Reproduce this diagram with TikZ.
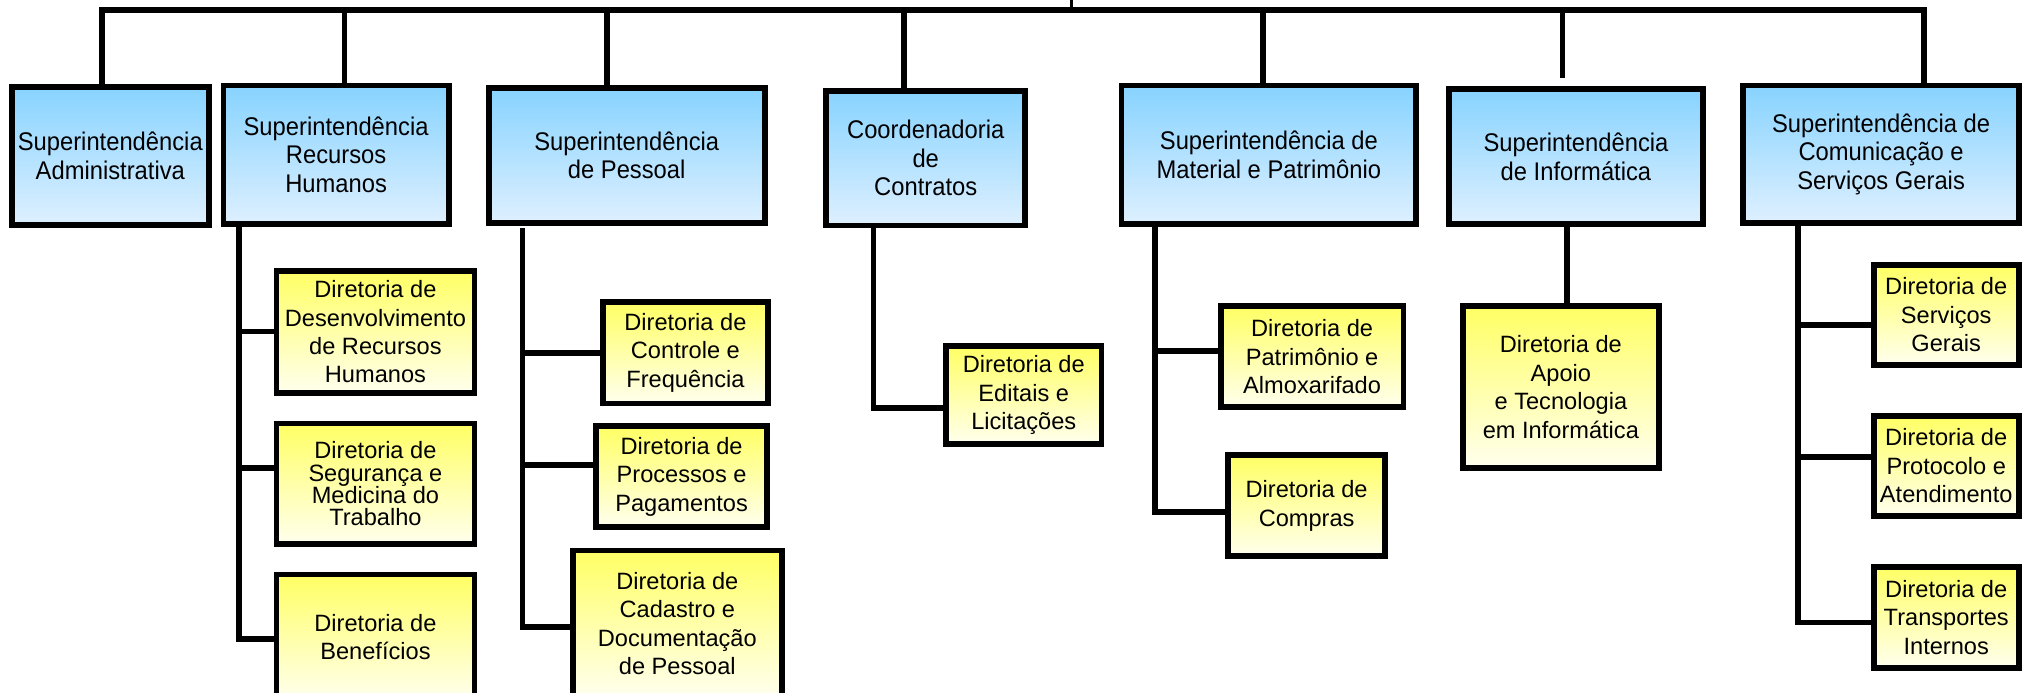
\documentclass[tikz,border=0pt]{standalone}
\usepackage{fontspec}
\setmainfont{Liberation Sans}
\newfontfamily\narrowfont[FakeStretch=0.93]{Liberation Sans}
\definecolor{bluetop}{RGB}{135,211,255}
\definecolor{bluebot}{RGB}{222,240,255}
\definecolor{yeltop}{RGB}{255,255,100}
\definecolor{yelbot}{RGB}{255,255,238}
\tikzset{
  supbox/.style={draw=black, line width=4.5pt, top color=bluetop, bottom color=bluebot,
    inner sep=0pt, align=center, font=\narrowfont\fontsize{19.8}{22}\selectfont},
  dirbox/.style={draw=black, line width=4.5pt, top color=yeltop, bottom color=yelbot,
    inner sep=0pt, align=center, font=\fontsize{18.3}{22}\selectfont},
  conn/.style={line width=4.5pt, draw=black},
  stub/.style={line width=3pt, draw=black}
}
\begin{document}
\begin{tikzpicture}[x=1pt,y=-1pt]
\useasboundingbox (0,0) rectangle (1568,537);
\clip (0,0) rectangle (1568,537);

% top level boxes
\node[supbox, minimum width=152.5pt, minimum height=107pt]   (B1) at (85.5,120.75) {Superintendência\\Administrativa};
\node[supbox, minimum width=174.5pt, minimum height=107.5pt] (B2) at (260.5,120) {Superintendência\\Recursos\\Humanos};
\node[supbox, minimum width=214pt, minimum height=104.5pt]   (B3) at (485.75,120.5) {Superintendência\\de Pessoal};
\node[supbox, minimum width=154.5pt, minimum height=104.5pt] (B4) at (717.5,122.5) {Coordenadoria\\de\\Contratos};
\node[supbox, minimum width=228.5pt, minimum height=107.5pt] (B5) at (983.5,120) {Superintendência de\\Material e Patrimônio};
\node[supbox, minimum width=196.5pt, minimum height=104.5pt] (B6) at (1221.5,121.5) {Superintendência\\de Informática};
\node[supbox, minimum width=213.5pt, minimum height=106.5pt] (B7) at (1458,119.5) {Superintendência de\\Comunicação e\\Serviços Gerais};

% directorates
\node[dirbox, minimum width=153.5pt, minimum height=95pt]   (Y1) at (291,257.25) {Diretoria de\\Desenvolvimento\\de Recursos\\Humanos};
\node[dirbox, minimum width=153.5pt, minimum height=93.5pt, font=\fontsize{18.3}{17.4}\selectfont] (Y2) at (291,375) {Diretoria de\\Segurança e\\Medicina do\\Trabalho};
\node[dirbox, minimum width=153.5pt, minimum height=97.5pt] (Y3) at (291,494) {Diretoria de\\Benefícios};
\node[dirbox, minimum width=128pt, minimum height=78.5pt]   (Y4) at (531.25,273.5) {Diretoria de\\Controle e\\Frequência};
\node[dirbox, minimum width=132.9pt, minimum height=78.5pt] (Y5) at (528.3,369.5) {Diretoria de\\Processos e\\Pagamentos};
\node[dirbox, minimum width=162.3pt, minimum height=113pt]  (Y6) at (525,483.25) {Diretoria de\\Cadastro e\\Documentação\\de Pessoal};
\node[dirbox, minimum width=120.5pt, minimum height=76pt]   (Y7) at (793.5,306.25) {Diretoria de\\Editais e\\Licitações};
\node[dirbox, minimum width=141.5pt, minimum height=78.5pt] (Y8) at (1017,276.5) {Diretoria de\\Patrimônio e\\Almoxarifado};
\node[dirbox, minimum width=122pt, minimum height=78.5pt]   (Y9) at (1012.75,392) {Diretoria de\\Compras};
\node[dirbox, minimum width=151.9pt, minimum height=125.5pt] (Y10) at (1209.8,300) {Diretoria de\\Apoio\\e Tecnologia\\em Informática};
\node[dirbox, minimum width=112.5pt, minimum height=77.5pt] (Y11) at (1508.5,244) {Diretoria de\\Serviços\\Gerais};
\node[dirbox, minimum width=112.5pt, minimum height=77.5pt] (Y12) at (1508.5,361) {Diretoria de\\Protocolo e\\Atendimento};
\node[dirbox, minimum width=112.5pt, minimum height=78.5pt] (Y13) at (1508.5,478.5) {Diretoria de\\Transportes\\Internos};

% top bus
\coordinate (root) at (830.5,0);
\coordinate (t1) at (79,7.7);
\coordinate (t2) at (267,7.7);
\coordinate (t3) at (470.6,7.7);
\coordinate (t4) at (700.6,7.7);
\coordinate (t5) at (979,7.7);
\coordinate (t6) at (1211,7.7);
\coordinate (t7) at (1491,7.7);
\draw[stub] (root) -- (root |- t1);
\draw[conn] (t1 |- B1.north) -- (t1) -- (t7) -- (t7 |- B7.north);
\draw[conn] (t2) -- (t2 |- B2.north);
\draw[conn] (t3) -- (t3 |- B3.north);
\draw[conn] (t4) -- (t4 |- B4.north);
\draw[conn] (t5) -- (t5 |- B5.north);
\draw[conn, shorten >=6.6pt] (t6) -- (t6 |- B6.north);

% Recursos Humanos
\coordinate (rh0) at (185,178);
\coordinate (rh1) at (185,257);
\coordinate (rh2) at (185,363);
\coordinate (rh3) at (185,495);
\draw[conn] (rh0 |- B2.south) -- (rh3) -- (rh3 -| Y3.west);
\draw[conn] (rh1) -- (rh1 -| Y1.west);
\draw[conn] (rh2) -- (rh2 -| Y2.west);

% Pessoal
\coordinate (pe0) at (405,177);
\coordinate (pe1) at (405,273.5);
\coordinate (pe2) at (405,360.5);
\coordinate (pe3) at (405,486);
\draw[conn] (pe0) -- (pe3) -- (pe3 -| Y6.west);
\draw[conn] (pe1) -- (pe1 -| Y4.west);
\draw[conn] (pe2) -- (pe2 -| Y5.west);

% Contratos
\coordinate (co0) at (677,178);
\coordinate (co1) at (677,316);
\draw[conn] (co0 |- B4.south) -- (co1) -- (co1 -| Y7.west);

% Material
\coordinate (ma0) at (895,178);
\coordinate (ma1) at (895,272);
\coordinate (ma2) at (895,397);
\draw[conn] (ma0 |- B5.south) -- (ma2) -- (ma2 -| Y9.west);
\draw[conn] (ma1) -- (ma1 -| Y8.west);

% Informatica
\coordinate (in0) at (1214.5,178);
\draw[conn] (in0 |- B6.south) -- (in0 |- Y10.north);

% Comunicacao
\coordinate (cs0) at (1393.5,178);
\coordinate (cs1) at (1393.5,252);
\coordinate (cs2) at (1393.5,354.5);
\coordinate (cs3) at (1393.5,482.5);
\draw[conn] (cs0 |- B7.south) -- (cs3) -- (cs3 -| Y13.west);
\draw[conn] (cs1) -- (cs1 -| Y11.west);
\draw[conn] (cs2) -- (cs2 -| Y12.west);
\end{tikzpicture}
\end{document}
